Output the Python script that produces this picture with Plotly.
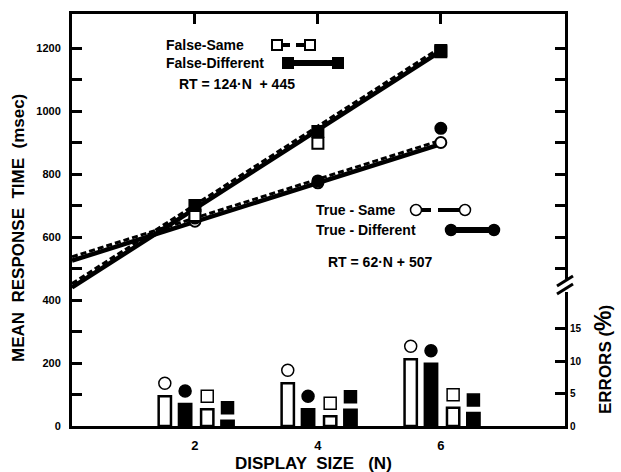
import plotly.graph_objects as go

# ---------------- data ----------------
display_size = [2, 4, 6]
rt_true_same = [650, 772, 900]
rt_true_diff = [660, 778, 945]
rt_false_same = [668, 898, 1188]
rt_false_diff = [700, 935, 1192]

fit_x = [0, 6]
fit_false = [440, 1190]   # RT = 124*N + 445 (as drawn)
fit_true = [525, 895]     # RT = 62*N + 507 (as drawn)

err_true_same = [4.6, 6.6, 10.3]
err_true_diff = [3.4, 2.6, 9.6]
err_false_same = [2.6, 1.5, 2.8]
err_false_diff = [0.8, 2.5, 2.0]

x_ticks = [2, 4, 6]
y_ticks = list(range(0, 1201, 100))
err_ticks = [0, 5, 10, 15]

# ---------------- geometry / style ----------------
W, H = 621, 472
ML, MR, MT, MB = 72, 56, 14, 46
FONT = "Liberation Sans"
Y_MAX = 1308
MS_PER_PCT = 20.6


def px(x):
    return (x - ML) / (W - ML - MR)


def py(y):
    return (H - MB - y) / (H - MT - MB)


fig = go.Figure()

# fitted lines: solid + dashed pair
for fit in (fit_false, fit_true):
    fig.add_trace(go.Scatter(x=fit_x, y=fit, mode="lines",
                             line=dict(color="black", width=4.5), hoverinfo="skip"))
    fig.add_trace(go.Scatter(x=fit_x, y=[v + 12 for v in fit], mode="lines",
                             line=dict(color="black", width=3, dash="6px,3px"),
                             hoverinfo="skip"))

# RT markers
def rt_marker(vals, symbol, filled):
    fig.add_trace(go.Scatter(
        x=display_size, y=vals, mode="markers",
        marker=dict(symbol=symbol, size=11,
                    color="black" if filled else "white",
                    line=dict(color="black", width=2))))

rt_marker(rt_true_same, "circle", False)
rt_marker(rt_true_diff, "circle", True)
rt_marker(rt_false_same, "square", False)
rt_marker(rt_false_diff, "square", True)

# error bars (percent) on secondary axis
offsets = [-0.49, -0.16, 0.2, 0.53]
groups = [(err_true_same, "circle", False), (err_true_diff, "circle", True),
          (err_false_same, "square", False), (err_false_diff, "square", True)]
for off, (errs, sym, filled) in zip(offsets, groups):
    xs = [n + off for n in display_size]
    fig.add_trace(go.Bar(
        x=xs, y=errs, width=0.2, yaxis="y2",
        marker=dict(color="black" if filled else "white",
                    line=dict(color="black", width=2.5))))
    fig.add_trace(go.Scatter(
        x=xs, y=[e + 2.0 for e in errs], yaxis="y2", mode="markers",
        marker=dict(symbol=sym, size=12,
                    color="black" if filled else "white",
                    line=dict(color="black", width=1.5))))

axis_common = dict(showgrid=False, zeroline=False, linecolor="black",
                   tickcolor="black")

fig.update_layout(
    width=W, height=H,
    margin=dict(l=ML, r=MR, t=MT, b=MB),
    paper_bgcolor="white", plot_bgcolor="white",
    showlegend=False, barmode="overlay",
    font=dict(family=FONT, color="black"),
    xaxis=dict(range=[0, 8.02], showline=True, linewidth=3,
               tickvals=x_ticks, ticktext=[f"<b>{v}</b>" for v in x_ticks],
               ticks="", tickfont=dict(size=13), ticklabelstandoff=5,
               **axis_common),
    xaxis2=dict(range=[0, 8.02], overlaying="x", side="top", anchor="y",
                showline=True, linewidth=3, tickvals=x_ticks, ticks="inside",
                ticklen=10, tickwidth=3, showticklabels=False, **axis_common),
    yaxis=dict(range=[0, Y_MAX], showline=True, linewidth=3,
               tickvals=y_ticks,
               ticktext=[f"<b>{v}</b>" if v % 200 == 0 else "" for v in y_ticks],
               ticks="inside", ticklen=10, tickwidth=3,
               tickfont=dict(size=11), ticklabelstandoff=6, **axis_common),
    yaxis2=dict(range=[0, Y_MAX / MS_PER_PCT], overlaying="y", side="right",
                anchor="x", showline=False, tickvals=err_ticks,
                ticktext=[f"<b>{v}</b>" for v in err_ticks],
                ticks="inside", ticklen=10, tickwidth=3,
                tickfont=dict(size=10), ticklabelstandoff=4, **axis_common),
    yaxis3=dict(range=[0, Y_MAX], overlaying="y", side="right", anchor="x",
                showline=True, linewidth=3,
                tickvals=[v for v in y_ticks if v >= 500],
                ticks="inside", ticklen=10, tickwidth=3,
                showticklabels=False, **axis_common),
)

# dummy trace to activate yaxis3 and xaxis2
fig.add_trace(go.Scatter(x=[None], y=[None], yaxis="y3", xaxis="x2",
                         mode="markers", hoverinfo="skip"))

shapes = []
ann = []

# axis break on the right axis
shapes.append(dict(type="rect", xref="paper", yref="paper",
                   x0=px(560), x1=px(570), y0=py(292), y1=py(279),
                   fillcolor="white", line=dict(width=0), layer="above"))
for y0 in (281, 289):
    shapes.append(dict(type="line", xref="paper", yref="paper",
                       x0=px(557), x1=px(573), y0=py(y0 + 5), y1=py(y0 - 5),
                       line=dict(color="black", width=3), layer="above"))

# legend samples
def sq(cx, cy, filled, s=10):
    shapes.append(dict(type="rect", xref="paper", yref="paper",
                       x0=px(cx - s / 2), x1=px(cx + s / 2),
                       y0=py(cy + s / 2), y1=py(cy - s / 2),
                       fillcolor="black" if filled else "white",
                       line=dict(color="black", width=2)))


def circ(cx, cy, filled, s=11):
    shapes.append(dict(type="circle", xref="paper", yref="paper",
                       x0=px(cx - s / 2), x1=px(cx + s / 2),
                       y0=py(cy + s / 2), y1=py(cy - s / 2),
                       fillcolor="black" if filled else "white",
                       line=dict(color="black", width=1.5)))


def seg(x0, x1, y, w=4):
    shapes.append(dict(type="line", xref="paper", yref="paper",
                       x0=px(x0), x1=px(x1), y0=py(y), y1=py(y),
                       line=dict(color="black", width=w)))


# False-Same
seg(281, 290, 45); seg(296, 305, 45)
sq(277, 45, False); sq(310, 45, False)
# False-Different
seg(292, 334, 63, 6)
sq(288, 63, True); sq(338, 63, True)
# True-Same
seg(421, 431, 210); seg(438, 460, 210)
circ(416, 210, False); circ(465, 210, False)
# True-Different
seg(456, 490, 230, 6)
circ(451, 230, True); circ(494, 230, True)


def text(x, y, s, size=13, angle=0, xanchor="left"):
    ann.append(dict(x=px(x), y=py(y), xref="paper", yref="paper", text=s,
                    showarrow=False, xanchor=xanchor, yanchor="middle",
                    textangle=angle, font=dict(size=size, family=FONT, color="black")))


text(164, 45, "<b>False-Same</b>", 14)
text(164, 63, "<b>False-Different</b>", 14)
text(177, 84, "<b>RT = 124·N  + 445</b>", 14)
text(314, 210, "<b>True - Same</b>", 14)
text(314, 230, "<b>True - Different</b>", 14)
text(326, 262, "<b>RT = 62·N + 507</b>", 14)

text(18, 228, "<b>MEAN  RESPONSE  TIME  (msec)</b>", 17, -90, "center")
text(313, 463, "<b>DISPLAY  SIZE   (N)</b>", 17, 0, "center")
text(603, 360, "<b>ERRORS (<span style='font-size:23px'>%</span>)</b>", 17, -90, "center")

fig.update_layout(shapes=shapes, annotations=ann)

fig.write_html("out.html")
